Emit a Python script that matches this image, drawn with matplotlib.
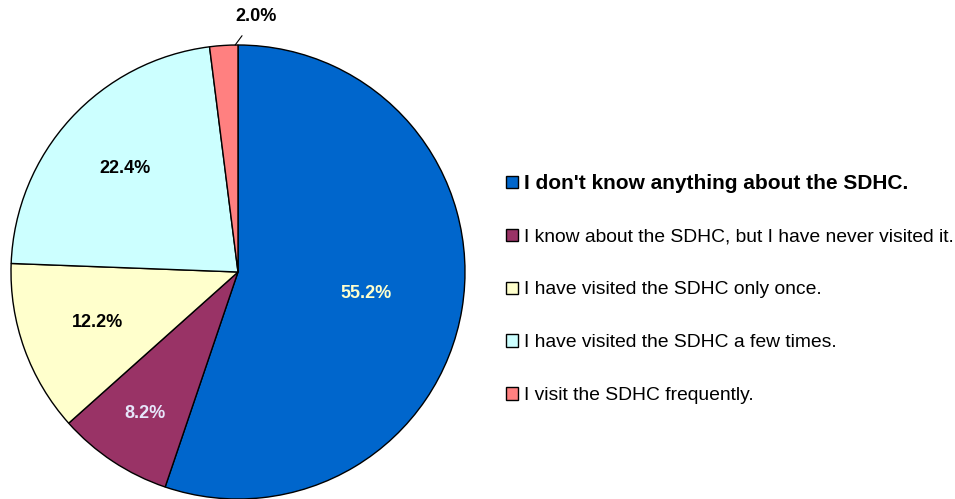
import numpy as np
import matplotlib.pyplot as plt
from matplotlib.patches import Patch

plt.rcParams['font.family'] = ['Liberation Sans', 'DejaVu Sans']

labels = [
    "I don't know anything about the SDHC.",
    "I know about the SDHC, but I have never visited it.",
    "I have visited the SDHC only once.",
    "I have visited the SDHC a few times.",
    "I visit the SDHC frequently.",
]
values = [55.2, 8.2, 12.2, 22.4, 2.0]
colors = ["#0066CC", "#993366", "#FFFFCC", "#CCFFFF", "#FF8080"]
text_colors = ["#FFFFCC", "#E6E6FA", "black", "black", "black"]
label_dist = [0.57, 0.745, 0.656, 0.673]

fig = plt.figure(figsize=(9.55, 4.99), dpi=100)
ax = fig.add_axes([11 / 955, 0.0, 454 / 955, 454 / 499])

wedges, _ = ax.pie(values, colors=colors, startangle=90, counterclock=False,
                   radius=1.0,
                   wedgeprops=dict(edgecolor="black", linewidth=1.0))
ax.set_xlim(-1, 1)
ax.set_ylim(-1, 1)
ax.set_aspect("equal")
ax.axis("off")

for i, w in enumerate(wedges[:4]):
    mid = np.deg2rad((w.theta1 + w.theta2) / 2)
    d = label_dist[i]
    ax.text(d * np.cos(mid), d * np.sin(mid), f"{values[i]:.1f}%",
            ha="center", va="center", fontsize=13, fontweight="bold",
            color=text_colors[i])

# small slice label with leader line
w = wedges[4]
a = np.deg2rad(w.theta1 + 0.1 * (w.theta2 - w.theta1))
ax.annotate(f"{values[4]:.1f}%", xy=(np.cos(a), np.sin(a)),
            xytext=(0.08, 1.125), ha="center", va="center",
            fontsize=13, fontweight="bold", annotation_clip=False,
            arrowprops=dict(arrowstyle="-", color="black", lw=0.8,
                            shrinkA=7, shrinkB=0))

handles = [Patch(facecolor=c, edgecolor="black", linewidth=1.0) for c in colors]
leg = fig.legend(handles, labels, loc="center left",
                 bbox_to_anchor=(489 / 955, 1 - 289 / 499),
                 frameon=False, fontsize=13.9, handlelength=0.6,
                 handleheight=0.6, handletextpad=0.3, labelspacing=1.86)
leg.get_texts()[0].set_fontweight("bold")
leg.get_texts()[0].set_fontsize(15)

fig.savefig("out.png", dpi=100)
